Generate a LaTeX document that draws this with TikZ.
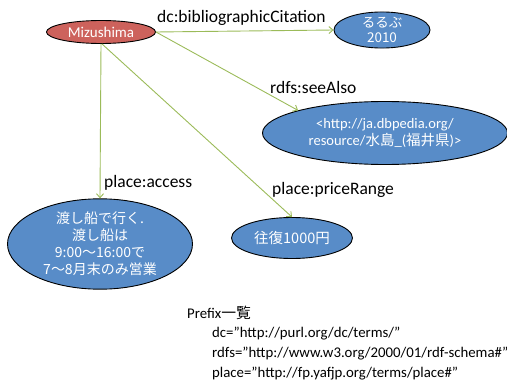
\documentclass[tikz,border=0pt]{standalone}
\usepackage{fontspec}
\setmainfont{Carlito}
\newfontfamily\jp{Noto Sans CJK JP}
\usetikzlibrary{shapes.geometric,arrows.meta}
\definecolor{nodered}{RGB}{205,98,92}
\definecolor{nodeblue}{RGB}{88,140,200}
\definecolor{edgegreen}{RGB}{155,187,89}
\begin{document}
\begin{tikzpicture}[x=1pt,y=-1pt,
  res/.style={ellipse,draw=black,line width=0.9pt,text=white,inner sep=0pt,align=center,font=\fontsize{14.5}{17}\selectfont},
  link/.style={draw=edgegreen,line width=0.9pt,-{Straight Barb[length=4pt,width=7pt]}},
  elabel/.style={anchor=base west,inner sep=0pt,font=\fontsize{17.5}{20}\selectfont},
  ptext/.style={anchor=base west,inner sep=0pt,font=\fontsize{14.8}{17}\selectfont}]
\useasboundingbox (0,0) rectangle (507,388);
\node[res,fill=nodered,minimum width=109pt,minimum height=23pt,font=\fontsize{15}{17}\selectfont] (miz) at (101,32) {Mizushima};
\node[res,fill=nodeblue,minimum width=96pt,minimum height=34pt,font=\jp\fontsize{13.5}{15}\selectfont] (rurubu) at (382,30) {るるぶ\\2010};
\node[res,fill=nodeblue,minimum width=245pt,minimum height=63pt] (dbp) at (385,133) {<http://ja.dbpedia.org/\\resource/{\jp 水島}\_({\jp 福井県})>};
\node[res,fill=nodeblue,minimum width=185pt,minimum height=83pt,font=\jp\fontsize{14}{17}\selectfont] (acc) at (100,244) {渡し船で行く.\\渡し船は\\9:00〜16:00で\\7〜8月末のみ営業};
\node[res,fill=nodeblue,minimum width=121pt,minimum height=41pt,font=\jp\fontsize{14.5}{17}\selectfont] (price) at (292,238) {往復1000円};
\draw[link] (miz.east) -- (rurubu.west);
\draw[link] (miz.east) -- (dbp.north west);
\draw[link] (miz.south) -- (acc.north);
\draw[link] ([xshift=1pt]miz.south) -- (price.north);
\node[elabel] (l1) at (157,22) {dc:bibliographicCitation};
\node[elabel] (l2) at (270,93) {rdfs:seeAlso};
\node[elabel] (l3) at (104,187) {place:access};
\node[elabel] (l4) at (272,194) {place:priceRange};
\node[ptext] (p0) at (187,318) {Prefix{\jp 一覧}};
\node[ptext] (p1) at (212,337) {dc="http://purl.org/dc/terms/"};
\node[ptext] (p2) at (212,357) {rdfs="http://www.w3.org/2000/01/rdf-schema\#"};
\node[ptext] (p3) at (212,377) {place=”http://fp.yafjp.org/terms/place\#”};
\end{tikzpicture}
\end{document}
